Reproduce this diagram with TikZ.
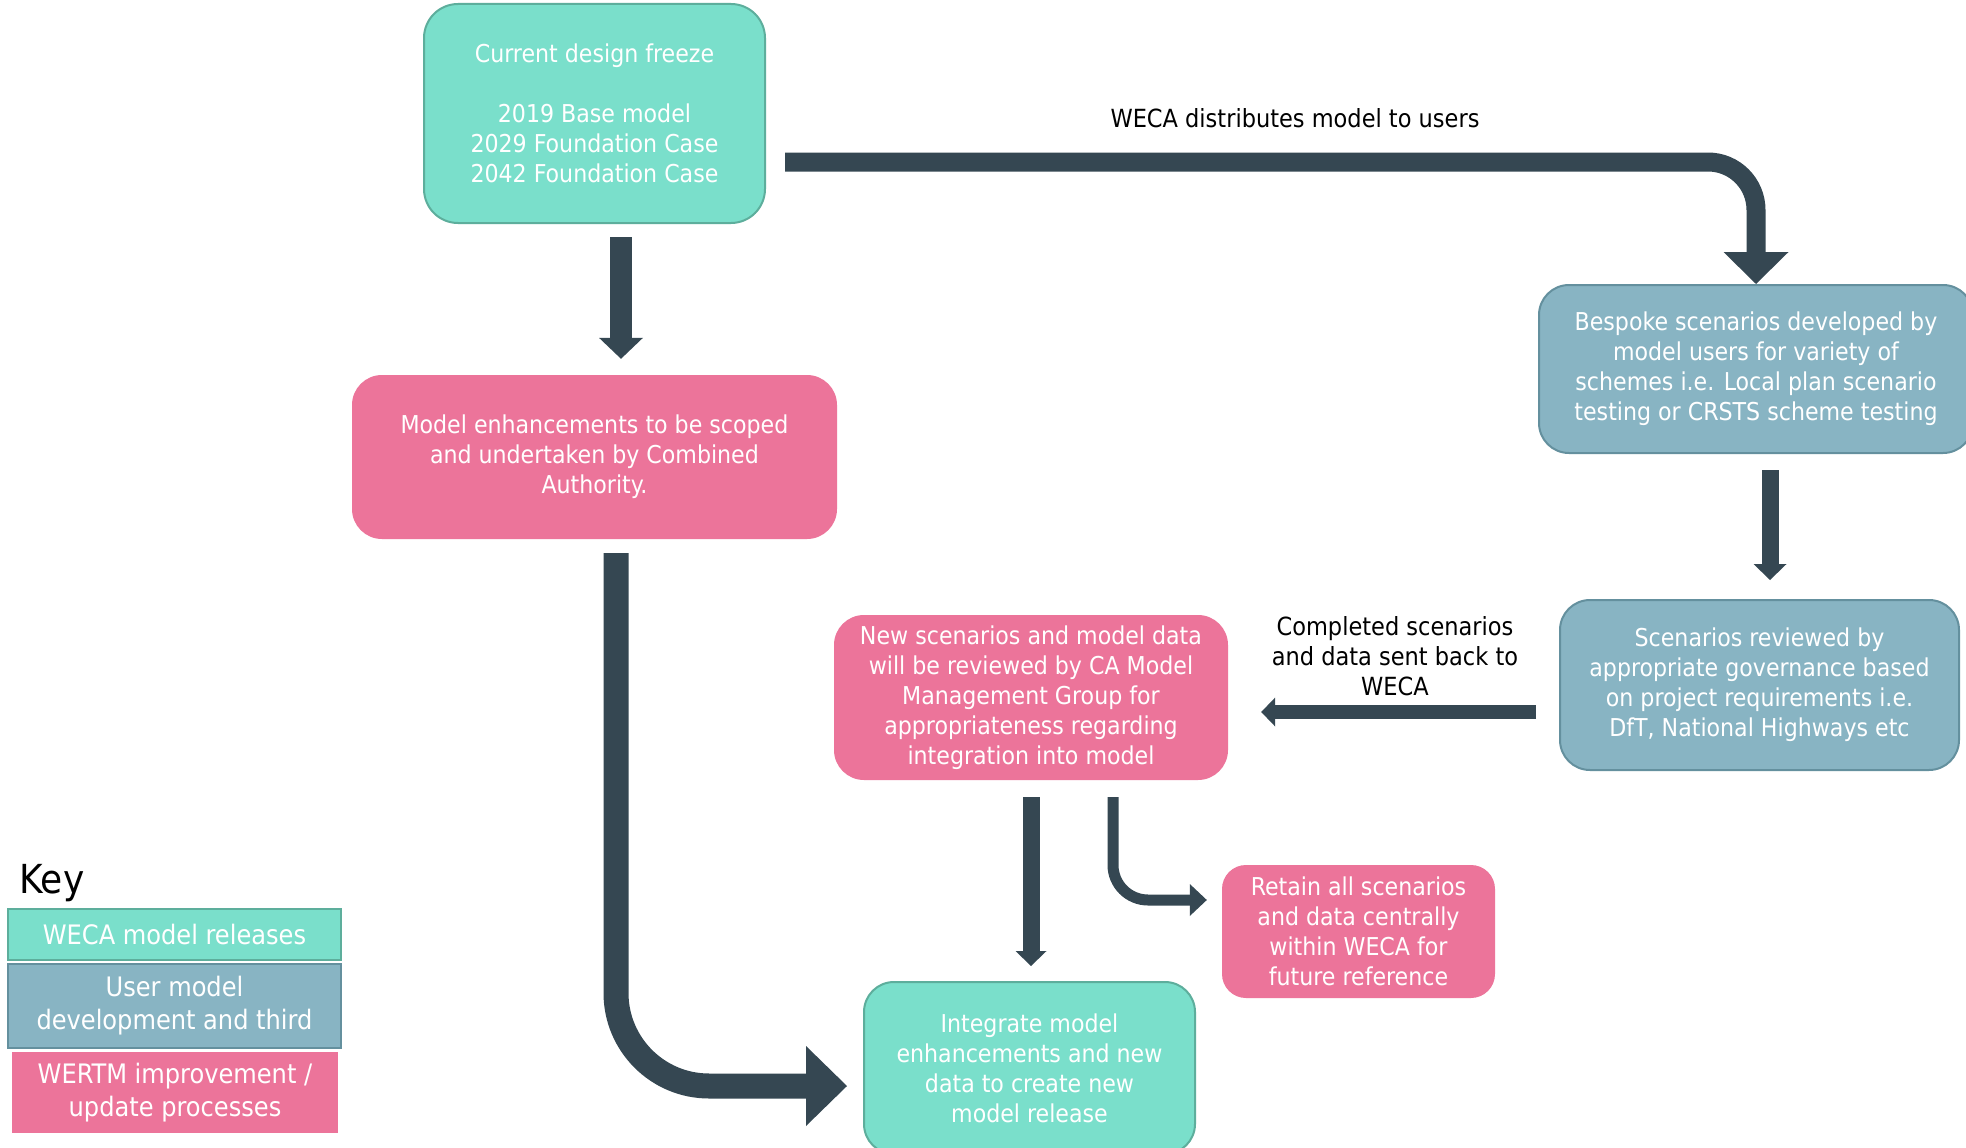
\documentclass[tikz,border=0pt]{standalone}
\usepackage{fontspec}
\setmainfont{DejaVu Sans Condensed}
\usetikzlibrary{arrows.meta,calc}
\definecolor{teal1}{HTML}{7ADFCB}
\definecolor{tealB}{HTML}{5DAE9C}
\definecolor{pink1}{HTML}{EC749A}
\definecolor{blue1}{HTML}{88B4C3}
\definecolor{blueB}{HTML}{64909E}
\definecolor{arrowc}{HTML}{354752}
\begin{document}
\begin{tikzpicture}[x=1pt,y=-1pt,
  box/.style={rounded corners=30pt, align=center, text=white, inner sep=0pt,
    font=\fontsize{24.6}{30}\selectfont},
  tealbox/.style={box, fill=teal1, draw=tealB, line width=2pt},
  pinkbox/.style={box, fill=pink1, draw=none},
  bluebox/.style={box, fill=blue1, draw=blueB, line width=2pt},
  lbl/.style={align=center, text=black, inner sep=0pt, font=\fontsize{25}{30}\selectfont},
  keybox/.style={minimum width=333pt, inner sep=0pt},
  keytext/.style={align=center, text=white, inner sep=0pt, font=\fontsize{26.8}{33}\selectfont},
  blockarrow/.style={draw=arrowc, line cap=butt}
]
\clip (0,0) rectangle (1966,1148);
\fill[white] (0,0) rectangle (1966,1148);

% boxes
\node[tealbox, minimum width=341pt, minimum height=219pt, rounded corners=34pt] (b1) at (594.5,113.5)
  {Current design freeze\\[30pt]2019 Base model\\2029 Foundation Case\\2042 Foundation Case};
\node[pinkbox, minimum width=485pt, minimum height=164pt] (b2) at (594.5,457)
  {Model enhancements to be scoped\\and undertaken by Combined\\Authority.};
\node[bluebox, minimum width=434pt, minimum height=168pt] (b3) at (1756,369)
  {Bespoke scenarios developed by\\model users for variety of\\schemes i.e. Local plan scenario\\testing or CRSTS scheme testing};
\node[bluebox, minimum width=399pt, minimum height=170pt] (b4) at (1759.5,685)
  {Scenarios reviewed by\\appropriate governance based\\on project requirements i.e.\\DfT, National Highways etc};
\node[pinkbox, minimum width=394pt, minimum height=165pt] (b5) at (1031,697.5)
  {New scenarios and model data\\will be reviewed by CA Model\\Management Group for\\appropriateness regarding\\integration into model};
\node[pinkbox, minimum width=273pt, minimum height=133pt, rounded corners=24pt] (b6) at (1358.5,931.5)
  {Retain all scenarios\\and data centrally\\within WECA for\\future reference};
\node[tealbox, minimum width=331pt, minimum height=172pt] (b7) at (1029.5,1068)
  {Integrate model\\enhancements and new\\data to create new\\model release};

% labels
\node[lbl, anchor=base] (l1) at (1295,128) {WECA distributes model to users};
\node[lbl] (l2) at (1395,656) {Completed scenarios\\and data sent back to\\WECA};

% arrows
\draw[blockarrow, line width=22pt, -{Triangle[width=44pt,length=21pt,line width=0pt]},
  shorten <=13pt, shorten >=16pt]
  ($(b1.south)+(26.5,0)$) -- ($(b2.north)+(26.5,0)$);
\draw[blockarrow, line width=19pt, rounded corners=48pt,
  -{Triangle[width=65pt,length=32pt,line width=0pt]}]
  ($(b1.east)+(19,48.5)$) -| (b3.north);
\draw[blockarrow, line width=17pt, -{Triangle[width=33pt,length=16pt,line width=0pt]},
  shorten <=16pt, shorten >=19pt]
  ($(b3.south)+(14,0)$) -- ($(b4.north)+(10.5,0)$);
\draw[blockarrow, line width=14pt, -{Triangle[width=29pt,length=14pt,line width=0pt]},
  shorten <=23pt, shorten >=33pt]
  ($(b4.west)+(0,27)$) -- ($(b5.east)+(0,14.5)$);
\draw[blockarrow, line width=17pt, -{Triangle[width=31pt,length=15pt,line width=0pt]},
  shorten <=17pt, shorten >=15pt]
  (b5.south) -- ($(b7.north)+(1.5,0)$);
\draw[blockarrow, line width=11pt, rounded corners=35pt,
  -{Triangle[width=32pt,length=17pt,line width=0pt]},
  shorten <=17pt, shorten >=15pt]
  ($(b5.south)+(82,0)$) |- ($(b6.west)+(0,-31.5)$);
\draw[blockarrow, line width=25pt, rounded corners=93pt,
  -{Triangle[width=80pt,length=41pt,line width=0pt]},
  shorten <=14pt, shorten >=16pt]
  ($(b2.south)+(21.5,0)$) |- ($(b7.west)+(0,18)$);

% key
\node[anchor=base west, inner sep=0pt, font=\fontsize{40}{46}\selectfont] (key) at (19,893) {Key};
\node[keybox, minimum height=51pt, fill=teal1, draw=tealB, line width=2pt, keytext] (k1) at (174.5,934.5)
  {WECA model releases};
\node[keybox, minimum height=84pt, fill=blue1, draw=blueB, line width=2pt] (k2) at (174.5,1006) {};
\node[keytext, anchor=north] (k2t) at (174.5,976) {User model\\development and third};
\node[keybox, minimum width=326pt, minimum height=81pt, fill=pink1, keytext] (k3) at (175,1092.5)
  {WERTM improvement /\\update processes};
\end{tikzpicture}
\end{document}
